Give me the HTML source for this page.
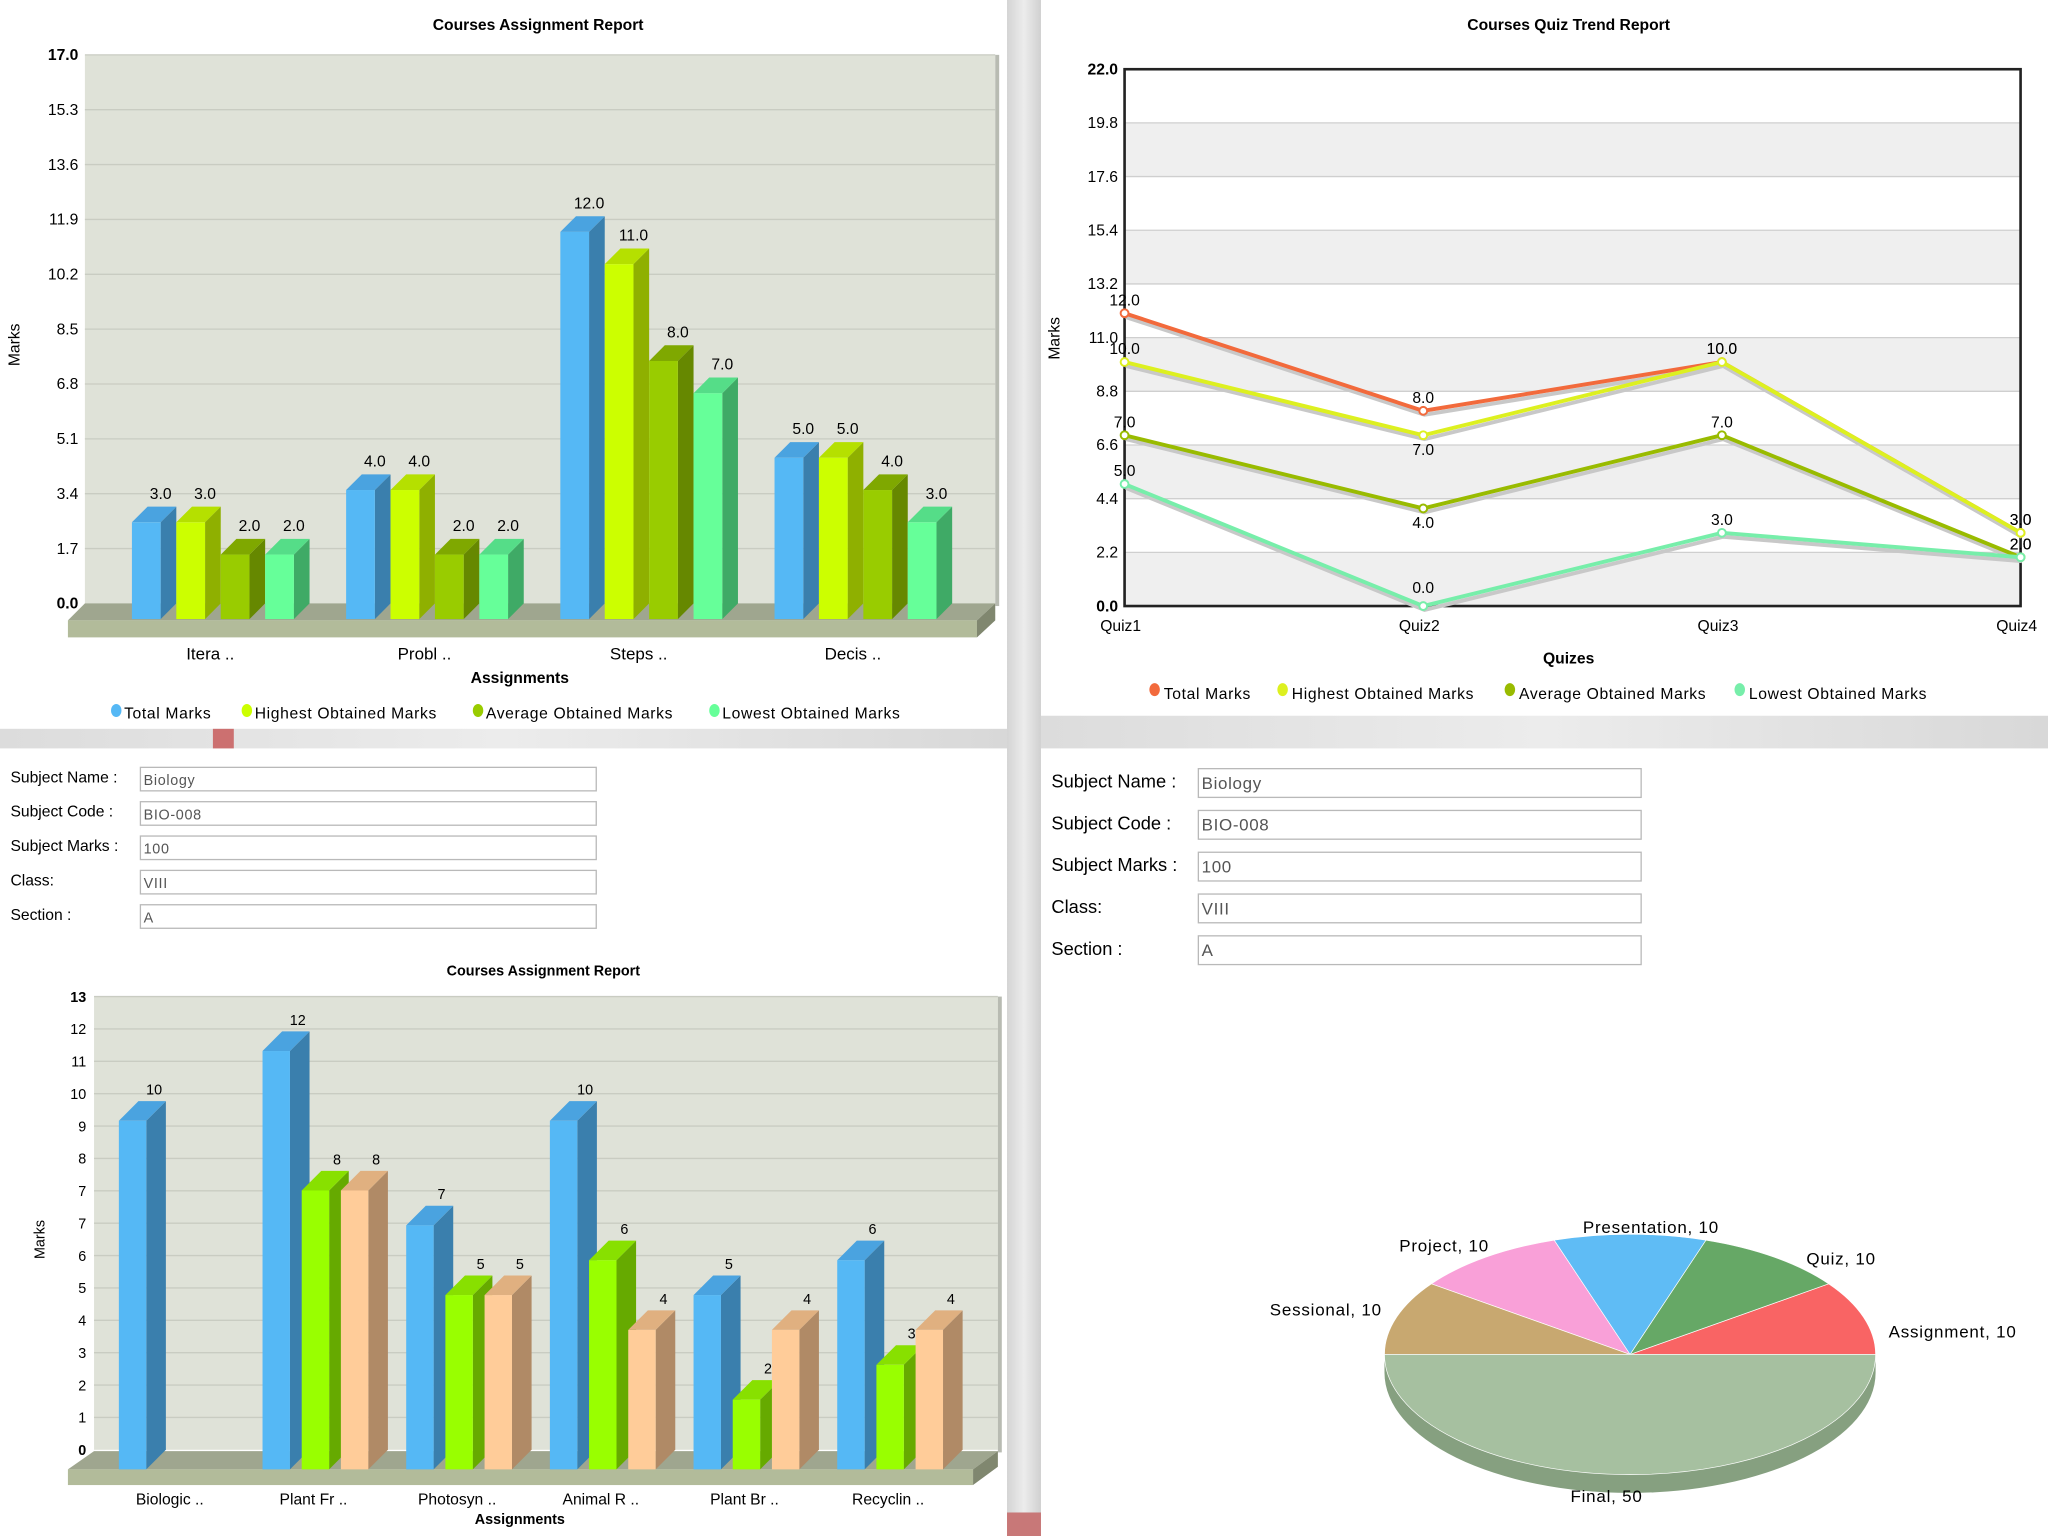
<!DOCTYPE html>
<html><head><meta charset="utf-8"><style>
html,body{margin:0;padding:0;background:#fff;}
svg{display:block;font-family:"Liberation Sans",sans-serif;}
</style></head><body>
<svg id="root" width="2048" height="1536" viewBox="0 0 1568 1176" xmlns="http://www.w3.org/2000/svg">
<defs>
<linearGradient id="gcol" x1="0" x2="1"><stop offset="0" stop-color="#d4d4d4"/><stop offset="0.5" stop-color="#ececec"/><stop offset="1" stop-color="#d0d0d0"/></linearGradient>
<linearGradient id="gstrip" x1="0" x2="1"><stop offset="0" stop-color="#dcdcdc"/><stop offset="0.5" stop-color="#ececec"/><stop offset="1" stop-color="#d8d8d8"/></linearGradient>
</defs>
<rect x="0" y="0" width="1568" height="1176" fill="#fff"/>
<rect x="771" y="0" width="26" height="1176" fill="url(#gcol)"/>
<rect x="771" y="1158" width="26" height="18" fill="#c87878"/>
<rect x="0" y="558" width="771" height="15" fill="url(#gstrip)"/>
<rect x="163" y="558" width="16" height="15" fill="#cc7070"/>
<rect x="797" y="548" width="771" height="25" fill="url(#gstrip)"/>
<g id="c1"></g>
<g id="c2"></g>
<g id="f1"></g>
<g id="f2"></g>
<g id="c3"></g>
<g id="c4"></g>
</svg>
<script>
// ---- data: top bar chart
const c1Categories = ["Itera ..", "Probl ..", "Steps ..", "Decis .."];
const c1Total = [3, 4, 12, 5];
const c1Highest = [3, 4, 11, 5];
const c1Average = [2, 2, 8, 4];
const c1Lowest = [2, 2, 7, 3];
const c1Ticks = ["0.0","1.7","3.4","5.1","6.8","8.5","10.2","11.9","13.6","15.3","17.0"];
const c1Max = 17;
// ---- data: line chart
const c2Categories = ["Quiz1","Quiz2","Quiz3","Quiz4"];
const c2Total = [12, 8, 10, 3];
const c2Highest = [10, 7, 10, 3];
const c2Average = [7, 4, 7, 2];
const c2Lowest = [5, 0, 3, 2];
const c2Ticks = ["0.0","2.2","4.4","6.6","8.8","11.0","13.2","15.4","17.6","19.8","22.0"];
const c2Max = 22;
// ---- data: bottom bar chart
const c3Categories = ["Biologic ..","Plant Fr ..","Photosyn ..","Animal R ..","Plant Br ..","Recyclin .."];
const c3Total = [10, 12, 7, 10, 5, 6];
const c3Highest = [null, 8, 5, 6, 2, 3];
const c3Lowest = [null, 8, 5, 4, 4, 4];
const c3Ticks = ["0","1","2","3","4","5","6","7","7","8","9","10","11","12","13"];
const c3Max = 13;
// ---- data: pie
const pieLabels = ["Assignment","Quiz","Presentation","Project","Sessional","Final"];
const pieValues = [10, 10, 10, 10, 10, 50];
// ---- form
const formLabels = ["Subject Name :","Subject Code :","Subject Marks :","Class:","Section :"];
const formValues = ["Biology","BIO-008","100","VIII","A"];

const NS = "http://www.w3.org/2000/svg";
function mk(parent, tag, attrs, name, inter) {
  const e = document.createElementNS(NS, tag);
  for (const k in attrs) e.setAttribute(k, attrs[k]);
  
  
  parent.appendChild(e);
  return e;
}
function txt(parent, x, y, s, size, name, extra) {
  const a = Object.assign({x: x, y: y, 'font-size': size, fill: '#000'}, extra || {});
  const t = mk(parent, 'text', a, name, false);
  t.textContent = s;
  return t;
}
function bar3d(g, x, yTop, yBot, w, d, cf, cs, ct, name) {
  const b = mk(g, 'g', {}, name, false);
  mk(b, 'polygon', {points: `${x+w},${yTop} ${x+w+d},${yTop-d} ${x+w+d},${yBot-d} ${x+w},${yBot}`, fill: cs}, name + '-side', false);
  mk(b, 'polygon', {points: `${x},${yTop} ${x+d},${yTop-d} ${x+w+d},${yTop-d} ${x+w},${yTop}`, fill: ct}, name + '-top', false);
  mk(b, 'rect', {x: x, y: yTop, width: w, height: yBot - yTop, fill: cf}, name + '-front', false);
}

// ===== Chart 1
(function(){
  const g = document.getElementById('c1');
  const x0 = 65, x1 = 762, yZero = 462, yTopAx = 42;
  const ys = v => yZero - v / c1Max * (yZero - yTopAx);
  txt(g, 412, 23, "Courses Assignment Report", 12, 'chart-title', {'text-anchor':'middle','font-weight':'bold'});
  mk(g, 'rect', {x: x0, y: yTopAx, width: x1 - x0, height: yZero - yTopAx, fill: '#dfe2d8'}, 'plot-area', false);
  mk(g, 'rect', {x: x1, y: yTopAx, width: 3, height: yZero - yTopAx + 2, fill: '#b8bbb2'}, 'plot-wall-edge', false);
  c1Ticks.forEach((t, i) => {
    const v = i * c1Max / (c1Ticks.length - 1);
    const y = ys(v);
    if (i > 0) mk(g, 'line', {x1: x0, x2: x1, y1: y, y2: y, stroke: '#c9ccc2', 'stroke-width': 1}, 'gridline', false);
    txt(g, 60, y + 4, t, 12, 'y-tick-label', {'text-anchor': 'end', 'font-weight': i === 0 || i === c1Ticks.length - 1 ? 'bold' : 'normal'});
  });
  txt(g, 15, 264, "Marks", 12, 'y-axis-title', {'text-anchor':'middle', transform: 'rotate(-90 15 264)'});
  mk(g, 'polygon', {points: '65,462 762,462 748,475 52,475', fill: '#9fa68f'}, 'floor-top', false);
  mk(g, 'rect', {x: 52, y: 475, width: 696, height: 13, fill: '#b2bb9a'}, 'floor-front', false);
  mk(g, 'polygon', {points: '748,475 762,462 762,475 748,488', fill: '#80876f'}, 'floor-side', false);
  const series = [
    [c1Total, '#55b8f5', '#3a7fad', '#4aa3e0', 'total'],
    [c1Highest, '#ccff00', '#8fb000', '#b5e000', 'highest'],
    [c1Average, '#99cc00', '#668800', '#7fa800', 'average'],
    [c1Lowest, '#66ff99', '#3faa66', '#55dd88', 'lowest']];
  const scale = (yZero - yTopAx) / c1Max;
  c1Categories.forEach((c, ci) => {
    series.forEach((s, si) => {
      const x = 101 + ci * 164 + si * 34;
      const v = s[0][ci];
      const yT = 474 - v * scale;
      bar3d(g, x, yT, 474, 22, 12, s[1], s[2], s[3], 'bar-' + s[4] + '-' + ci);
      txt(g, x + 22, yT - 18, v.toFixed(1), 12, 'bar-value-label', {'text-anchor':'middle'});
    });
    txt(g, 161 + ci * 164, 505, c, 13, 'x-tick-label', {'text-anchor':'middle'});
  });
  txt(g, 398, 523, "Assignments", 12, 'x-axis-title', {'text-anchor':'middle','font-weight':'bold'});
  const leg = [["Total Marks",'#55b8f5',84],["Highest Obtained Marks",'#ccff00',184],["Average Obtained Marks",'#99cc00',361],["Lowest Obtained Marks",'#66ff99',542]];
  leg.forEach(l => {
    mk(g, 'ellipse', {cx: l[2] + 5, cy: 544, rx: 4, ry: 5, fill: l[1]}, 'legend-marker', false);
    txt(g, l[2] + 11, 550, l[0], 12, 'legend-entry', {'letter-spacing': '0.5'});
  });
})();

// ===== Chart 2
(function(){
  const g = document.getElementById('c2');
  const x0 = 861, x1 = 1547, yZero = 464, yTopAx = 53;
  const ys = v => yZero - v / c2Max * (yZero - yTopAx);
  const xs = i => x0 + i * (x1 - x0) / (c2Categories.length - 1);
  txt(g, 1201, 23, "Courses Quiz Trend Report", 12, 'chart-title', {'text-anchor':'middle','font-weight':'bold'});
  mk(g, 'rect', {x: x0, y: yTopAx, width: x1 - x0, height: yZero - yTopAx, fill: '#fff'}, 'plot-area', false);
  const n = c2Ticks.length - 1;
  for (let i = 0; i < n; i++) {
    const vA = i * c2Max / n, vB = (i + 1) * c2Max / n;
    if (i % 2 === 0) mk(g, 'rect', {x: x0, y: ys(vB), width: x1 - x0, height: ys(vA) - ys(vB), fill: '#efefef'}, 'plot-band', false);
  }
  c2Ticks.forEach((t, i) => {
    const v = i * c2Max / n, y = ys(v);
    mk(g, 'line', {x1: x0, x2: x1, y1: y, y2: y, stroke: '#cfcfcf', 'stroke-width': 1}, 'gridline', false);
    txt(g, 856, y + 4, t, 12, 'y-tick-label', {'text-anchor':'end','font-weight': i === 0 || i === n ? 'bold' : 'normal'});
  });
  mk(g, 'rect', {x: x0, y: yTopAx, width: x1 - x0, height: yZero - yTopAx, fill: 'none', stroke: '#222', 'stroke-width': 2}, 'plot-border', false);
  txt(g, 811, 259, "Marks", 12, 'y-axis-title', {'text-anchor':'middle', transform: 'rotate(-90 811 259)'});
  c2Categories.forEach((c, i) => txt(g, xs(i) - 3, 483, c, 12, 'x-tick-label', {'text-anchor':'middle'}));
  txt(g, 1201, 508, "Quizes", 12, 'x-axis-title', {'text-anchor':'middle','font-weight':'bold'});
  const series = [[c2Total,'#f26a3c','total'],[c2Highest,'#ddf020','highest'],[c2Average,'#99bb00','average'],[c2Lowest,'#77eeaa','lowest']];
  series.forEach(s => {
    const pts = s[0].map((v, i) => xs(i) + ',' + ys(v)).join(' ');
    const sh = s[0].map((v, i) => xs(i) + 1 + ',' + (ys(v) + 3)).join(' ');
    mk(g, 'polyline', {points: sh, fill: 'none', stroke: '#c8c8c8', 'stroke-width': 3}, 'line-shadow-' + s[2], false);
    mk(g, 'polyline', {points: pts, fill: 'none', stroke: s[1], 'stroke-width': 3}, 'line-' + s[2], false);
    s[0].forEach((v, i) => {
      mk(g, 'circle', {cx: xs(i), cy: ys(v), r: 3, fill: '#fff', stroke: s[1], 'stroke-width': 1.5}, 'point-' + s[2], false);
      const below = (s[2] === 'highest' && i === 1) || (s[2] === 'average' && i === 1);
      let ly = below ? ys(v) + 15 : ys(v) - 6;
      if (i === 1 && s[2] === 'lowest') ly = ys(v) - 10;
      txt(g, xs(i), ly, v.toFixed(1), 12, 'point-label', {'text-anchor':'middle'});
    });
  });
  const leg = [["Total Marks",'#f26a3c',880],["Highest Obtained Marks",'#ddf020',978],["Average Obtained Marks",'#99bb00',1152],["Lowest Obtained Marks",'#77eeaa',1328]];
  leg.forEach(l => {
    mk(g, 'ellipse', {cx: l[2] + 4, cy: 528, rx: 4, ry: 5, fill: l[1]}, 'legend-marker', false);
    txt(g, l[2] + 11, 535, l[0], 12, 'legend-entry', {'letter-spacing': '0.5'});
  });
})();

// ===== Forms
(function(){
  const g1 = document.getElementById('f1');
  formLabels.forEach((l, i) => {
    const y = 587 + i * 26.3;
    txt(g1, 8, y + 12, l, 12, 'form-label');
    mk(g1, 'rect', {x: 107.5, y: y + 0.5, width: 349, height: 18, fill: '#fff', stroke: '#b9b9b9'}, 'form-input', true);
    txt(g1, 110, y + 14, formValues[i], 11, 'form-input-value', {fill: '#555', 'letter-spacing': '0.5'});
  });
  const g2 = document.getElementById('f2');
  formLabels.forEach((l, i) => {
    const y = 588 + i * 32;
    txt(g2, 805, y + 15, l, 14, 'form-label');
    mk(g2, 'rect', {x: 917.5, y: y + 0.5, width: 339, height: 22, fill: '#fff', stroke: '#b9b9b9'}, 'form-input', true);
    txt(g2, 920, y + 16, formValues[i], 13, 'form-input-value', {fill: '#555', 'letter-spacing': '0.5'});
  });
})();

// ===== Chart 3
(function(){
  const g = document.getElementById('c3');
  const x0 = 72, x1 = 764, yZero = 1110, yTopAx = 763;
  const n = c3Ticks.length - 1;
  const ys = v => yZero - v / c3Max * (yZero - yTopAx);
  txt(g, 416, 747, "Courses Assignment Report", 11, 'chart-title', {'text-anchor':'middle','font-weight':'bold'});
  mk(g, 'rect', {x: x0, y: yTopAx, width: x1 - x0, height: yZero - yTopAx, fill: '#dfe2d8'}, 'plot-area', false);
  mk(g, 'rect', {x: x1, y: yTopAx, width: 3, height: yZero - yTopAx + 2, fill: '#b8bbb2'}, 'plot-wall-edge', false);
  c3Ticks.forEach((t, i) => {
    const v = i * c3Max / n, y = ys(v);
    if (i > 0) mk(g, 'line', {x1: x0, x2: x1, y1: y, y2: y, stroke: '#c9ccc2'}, 'gridline', false);
    txt(g, 66, y + 4, t, 11, 'y-tick-label', {'text-anchor':'end','font-weight': i === 0 || i === n ? 'bold' : 'normal'});
  });
  txt(g, 34, 949, "Marks", 11, 'y-axis-title', {'text-anchor':'middle', transform: 'rotate(-90 34 949)'});
  mk(g, 'polygon', {points: '72,1111 764,1111 745,1125 52,1125', fill: '#9fa68f'}, 'floor-top', false);
  mk(g, 'rect', {x: 52, y: 1125, width: 693, height: 12, fill: '#b2bb9a'}, 'floor-front', false);
  mk(g, 'polygon', {points: '745,1125 764,1111 764,1123 745,1137', fill: '#80876f'}, 'floor-side', false);
  const scale = (yZero - yTopAx) / c3Max;
  const series = [[c3Total,'#55b8f5','#3a7fad','#4aa3e0','total'],[c3Highest,'#99ff00','#66aa00','#88e000','highest'],[c3Lowest,'#ffcc99','#b08a66','#e0b080','lowest']];
  c3Categories.forEach((c, ci) => {
    series.forEach((s, si) => {
      const v = s[0][ci];
      if (v === null) return;
      const x = 91 + ci * 110 + si * 30;
      const yT = 1125 - v * scale;
      bar3d(g, x, yT, 1125, 21, 15, s[1], s[2], s[3], 'bar-' + s[4] + '-' + ci);
      txt(g, x + 27, yT - 20, String(v), 11, 'bar-value-label', {'text-anchor':'middle'});
    });
    txt(g, 130 + ci * 110, 1152, c, 12, 'x-tick-label', {'text-anchor':'middle'});
  });
  txt(g, 398, 1167, "Assignments", 11, 'x-axis-title', {'text-anchor':'middle','font-weight':'bold'});
})();

// ===== Pie
(function(){
  const g = document.getElementById('c4');
  const cx = 1248, cy = 1037, rx = 188, ry = 92, th = 14;
  const colors = ['#f96464','#66a866','#5fbcf5','#f9a0d8','#c8a870','#a6c0a0'];
  const total = pieValues.reduce((a, b) => a + b, 0);
  const pt = (a) => [cx + rx * Math.cos(a), cy - ry * Math.sin(a)];
  // label placement (layout only)
  const labelPos = [[1446,1024,'start'],[1383,968,'start'],[1264,944,'middle'],[1140,958,'end'],[1058,1007,'end'],[1230,1150,'middle']];
  mk(g, 'path', {d: `M${cx-rx},${cy} L${cx-rx},${cy+th} A${rx},${ry} 0 0 0 ${cx+rx},${cy+th} L${cx+rx},${cy} A${rx},${ry} 0 0 1 ${cx-rx},${cy} Z`, fill: '#86a080'}, 'pie-depth', false);
  let a0 = 0;
  pieValues.forEach((v, i) => {
    const a1 = a0 + v / total * Math.PI * 2;
    const p0 = pt(a0), p1 = pt(a1);
    const large = (a1 - a0) > Math.PI ? 1 : 0;
    mk(g, 'path', {d: `M${cx},${cy} L${p0[0]},${p0[1]} A${rx},${ry} 0 ${large} 0 ${p1[0]},${p1[1]} Z`, fill: colors[i], stroke: '#fff', 'stroke-width': 0.5}, 'pie-slice-' + pieLabels[i].toLowerCase(), true);
    const lp = labelPos[i];
    txt(g, lp[0], lp[1], pieLabels[i] + ", " + v, 13, 'pie-label', {'text-anchor': lp[2], 'letter-spacing': '0.6'});
    a0 = a1;
  });
})();
</script>
</body></html>
